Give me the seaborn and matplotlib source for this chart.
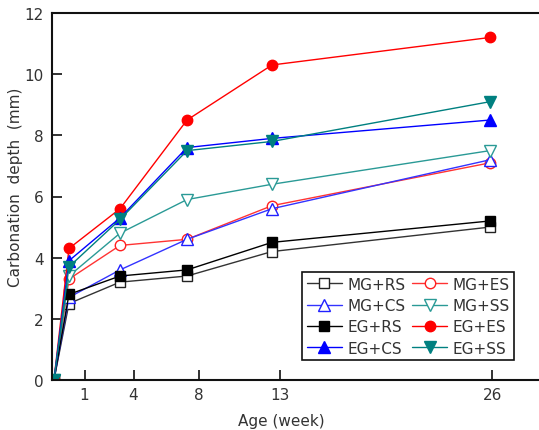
import matplotlib
matplotlib.use("Agg")
import matplotlib.pyplot as plt
import seaborn as sns
import pandas as pd

ages = [-0.88, 0.04, 3.17, 7.28, 12.49, 25.86]
series_names = ["MG+RS", "MG+ES", "MG+CS", "MG+SS", "EG+RS", "EG+ES", "EG+CS", "EG+SS"]
mg_rs = [0, 2.5, 3.2, 3.4, 4.2, 5.0]
mg_es = [0, 3.3, 4.4, 4.6, 5.7, 7.1]
mg_cs = [0, 2.7, 3.6, 4.6, 5.6, 7.2]
mg_ss = [0, 3.4, 4.8, 5.9, 6.4, 7.5]
eg_rs = [0, 2.8, 3.4, 3.6, 4.5, 5.2]
eg_es = [0, 4.3, 5.6, 8.5, 10.3, 11.2]
eg_cs = [0, 3.9, 5.3, 7.6, 7.9, 8.5]
eg_ss = [0, 3.7, 5.25, 7.5, 7.8, 9.1]
xticks = [1, 4, 8, 13, 26]
yticks = [0, 2, 4, 6, 8, 10, 12]

values = {"MG+RS": mg_rs, "MG+ES": mg_es, "MG+CS": mg_cs, "MG+SS": mg_ss,
          "EG+RS": eg_rs, "EG+ES": eg_es, "EG+CS": eg_cs, "EG+SS": eg_ss}

styles = {
    "MG+RS": dict(color="#333333", marker="s", mfc="white", mec="#222222"),
    "MG+ES": dict(color="#ff3333", marker="o", mfc="white", mec="#ff2020"),
    "MG+CS": dict(color="#3333ff", marker="^", mfc="white", mec="#2020ff"),
    "MG+SS": dict(color="#2a9a96", marker="v", mfc="white", mec="#2a9a96"),
    "EG+RS": dict(color="#000000", marker="s", mfc="#000000", mec="#000000"),
    "EG+ES": dict(color="#ff0000", marker="o", mfc="#ff0000", mec="#ff0000"),
    "EG+CS": dict(color="#0000ff", marker="^", mfc="#0000ff", mec="#0000ff"),
    "EG+SS": dict(color="#008080", marker="v", mfc="#008080", mec="#008080"),
}
msizes = {"s": 7, "o": 7.5, "^": 8.5, "v": 8.5}

sns.set_style("ticks")
plt.rcParams["font.family"] = ["DejaVu Sans"]
plt.rcParams["text.color"] = "#333333"

fig = plt.figure(figsize=(5.39, 4.31), dpi=100)
ax = fig.add_axes([52 / 539, 1 - 381 / 431, 490 / 539, 367 / 431])

handles = {}
for name in series_names:
    df = pd.DataFrame({"Age": ages, "Depth": values[name]})
    st = styles[name]
    sns.lineplot(data=df, x="Age", y="Depth", ax=ax, color=st["color"],
                 marker=st["marker"], markersize=msizes[st["marker"]],
                 markerfacecolor=st["mfc"], markeredgecolor=st["mec"],
                 markeredgewidth=1.0, linewidth=1.0, label=name, legend=False)
    handles[name] = ax.lines[-1]

ax.set_xlim(-1.0, 29.05)
ax.set_ylim(0, 12)
ax.set_xticks(xticks)
ax.set_xticklabels([str(t) for t in xticks])
ax.set_yticks(yticks)
ax.tick_params(axis="both", direction="in", length=7, width=1.3, labelsize=11,
               labelcolor="#333333", color="#222222")
ax.tick_params(axis="y", pad=6)
ax.tick_params(axis="x", pad=5)
for sp in ax.spines.values():
    sp.set_linewidth(1.5)
    sp.set_color("#111111")

ax.set_xlabel("Age (week)", fontsize=11, color="#333333")
ax.set_ylabel("Carbonation  depth  (mm)", fontsize=11, color="#333333")
ax.xaxis.set_label_coords(0.468, -0.109)
ax.yaxis.set_label_coords(-0.074, 0.529)
ax.xaxis.label.set_va("center")
ax.yaxis.label.set_va("center")

order = ["MG+RS", "MG+CS", "EG+RS", "EG+CS", "MG+ES", "MG+SS", "EG+ES", "EG+SS"]
leg = ax.legend([handles[n] for n in order], order, ncol=2, loc="upper left",
                bbox_to_anchor=(302 / 539, 1 - 273 / 431),
                bbox_transform=fig.transFigure,
                fontsize=11, frameon=True, fancybox=False, edgecolor="#111111",
                handlelength=2.3, handletextpad=0.35, columnspacing=0.45,
                labelspacing=0.42, borderpad=0.3, borderaxespad=0)
leg.get_frame().set_linewidth(1.2)
leg.get_frame().set_alpha(1)

fig.savefig("out.png", dpi=100)
